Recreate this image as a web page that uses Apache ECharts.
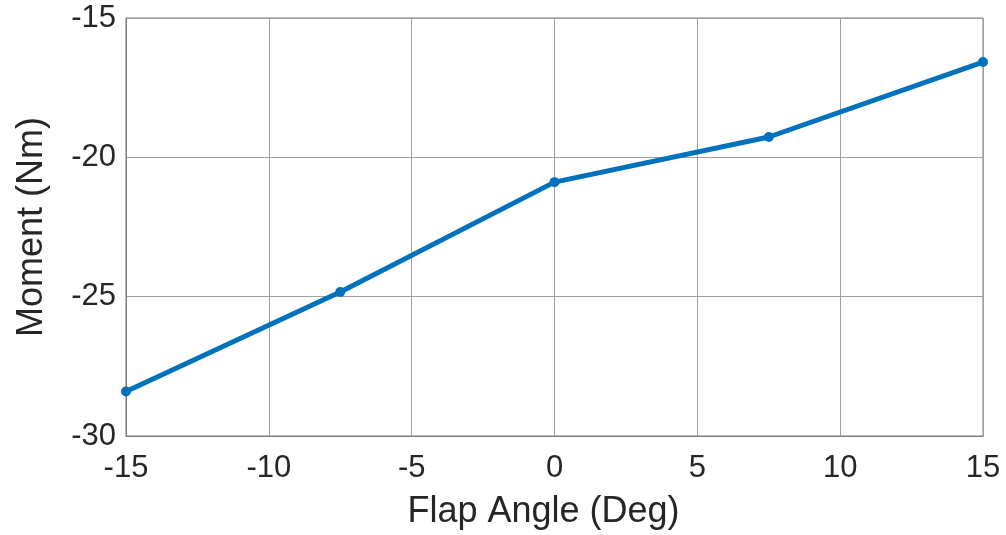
<!DOCTYPE html>
<html>
<head>
<meta charset="utf-8">
<script src="https://cdn.jsdelivr.net/npm/echarts@6/dist/echarts.min.js"></script>
<style>
html,body{margin:0;padding:0;background:#fff;}
#c{width:1006px;height:535px;}
</style>
</head>
<body>
<div id="c"></div>
<script>
const flapAngle = [-15, -7.5, 0, 7.5, 15];
const moment = [-28.40, -24.83, -20.89, -19.27, -16.58];
const xTitle = 'Flap Angle (Deg)';
const yTitle = 'Moment (Nm)';

const chart = echarts.init(document.getElementById('c'), null, {renderer: 'canvas'});
const font = "'Liberation Sans', Arial, Helvetica, sans-serif";
const txt = '#262626';
chart.setOption({
  animation: false,
  backgroundColor: '#fff',
  grid: {left: 126, top: 18, right: 23, bottom: 99, show: true, borderColor: '#7a7a7a', borderWidth: 1, backgroundColor: 'transparent'},
  xAxis: {
    type: 'value', min: -15, max: 15, interval: 5,
    name: xTitle, nameLocation: 'middle', nameGap: 58,
    nameTextStyle: {fontSize: 36, color: txt, fontFamily: font, padding: [0, 22, 0, 0]},
    axisLine: {show: true, onZero: false, lineStyle: {color: '#7a7a7a', width: 1}},
    axisTick: {show: false},
    axisLabel: {fontSize: 31, color: txt, fontFamily: font, margin: 17},
    splitLine: {show: true, lineStyle: {color: '#a0a0a0', width: 1}}
  },
  yAxis: {
    type: 'value', min: -30, max: -15, interval: 5,
    name: yTitle, nameLocation: 'middle', nameGap: 76,
    nameTextStyle: {fontSize: 36, color: txt, fontFamily: font},
    axisLine: {show: true, onZero: false, lineStyle: {color: '#7a7a7a', width: 1}},
    axisTick: {show: false},
    axisLabel: {fontSize: 31, color: txt, fontFamily: font, margin: 10},
    splitLine: {show: true, lineStyle: {color: '#a0a0a0', width: 1}}
  },
  series: [{
    type: 'line',
    data: flapAngle.map((x, i) => [x, moment[i]]),
    lineStyle: {color: '#0072BD', width: 5},
    itemStyle: {color: '#0072BD'},
    symbol: 'circle', symbolSize: 10, showSymbol: true,
    clip: false
  }]
});
</script>
</body>
</html>
